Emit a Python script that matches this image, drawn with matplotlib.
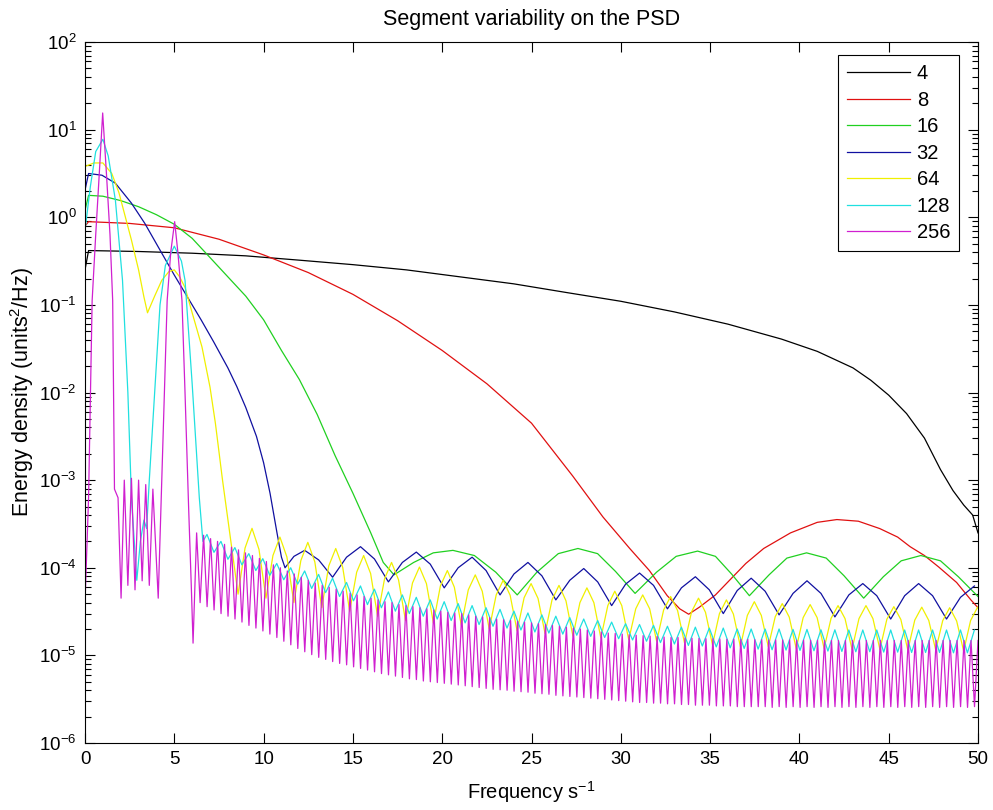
import numpy as np
import matplotlib
matplotlib.use("Agg")
import matplotlib.pyplot as plt
from matplotlib.ticker import FixedLocator, MultipleLocator, NullFormatter

plt.rcParams['font.family'] = ['Liberation Sans', 'DejaVu Sans']
plt.rcParams['mathtext.fontset'] = 'custom'
plt.rcParams['mathtext.rm'] = 'Liberation Sans'
plt.rcParams['mathtext.it'] = 'Liberation Sans:italic'

# segment lengths (legend)
segments = ['4', '8', '16', '32', '64', '128', '256']

# ---- segment 4 (black)
f4 = [0, 0.2, 3, 6, 9, 12, 15, 18, 21, 24, 27, 30, 33, 36, 39, 41, 43, 44, 45, 46, 47,
      47.9, 48.6, 49.2, 49.7, 50]
p4 = [0.251, 0.417, 0.407, 0.389, 0.363, 0.324, 0.288, 0.251, 0.209, 0.174, 0.138, 0.110,
      0.0832, 0.0603, 0.0407, 0.0295, 0.0191, 0.0138, 0.00933, 0.00575, 0.00302, 0.00132,
      7.6e-4, 5.2e-4, 4.0e-4, 2.5e-4]

# ---- segment 8 (red)
f8 = [0, 0.2, 2.5, 5, 7.5, 10, 12.5, 15, 17.5, 20, 22.5, 25, 27.3, 29, 30.5, 31.6, 32.6,
      33.3, 33.8, 34.4, 35.3, 36.2, 37.0, 38.0, 39.5, 41.0, 42.1, 43.3, 44.5, 45.5, 46.2,
      47.0, 47.8, 48.8, 49.6, 50]
p8 = [0.794, 0.891, 0.851, 0.759, 0.562, 0.372, 0.234, 0.132, 0.0661, 0.0302, 0.0126,
      0.00447, 0.00112, 3.8e-4, 1.66e-4, 9.3e-5, 4.8e-5, 3.4e-5, 2.95e-5, 3.55e-5, 4.9e-5,
      7.6e-5, 1.12e-4, 1.66e-4, 2.5e-4, 3.3e-4, 3.55e-4, 3.4e-4, 2.8e-4, 2.24e-4, 1.74e-4,
      1.38e-4, 1.02e-4, 6.8e-5, 4.3e-5, 3.5e-5]

# ---- segment 16 (green)
f16 = [0, 0.2, 1, 2, 3, 4, 5, 6, 7, 8, 9, 10, 11, 12, 13, 14, 15, 16, 16.7, 17.3,
       18.4, 19.5, 20.6, 21.8, 23.0, 24.2, 25.3, 26.5, 27.6, 28.7, 29.7, 30.8, 32.0, 33.1,
       34.3, 35.3, 36.2, 37.2, 38.3, 39.3, 40.4, 41.5, 42.5, 43.6, 44.7, 45.7, 46.8, 47.9,
       48.9, 50]
p16 = [1.20, 1.78, 1.74, 1.55, 1.32, 1.07, 0.832, 0.575, 0.347, 0.209, 0.126, 0.0676,
       0.0302, 0.0141, 0.00562, 0.00191, 7.1e-4, 2.5e-4, 1.15e-4, 8.3e-5,
       1.15e-4, 1.48e-4, 1.58e-4, 1.38e-4, 8.9e-5, 4.9e-5, 8.9e-5, 1.45e-4, 1.66e-4,
       1.45e-4, 9.1e-5, 5.1e-5, 8.9e-5, 1.35e-4, 1.55e-4, 1.35e-4, 8.5e-5, 4.8e-5, 8.3e-5,
       1.29e-4, 1.48e-4, 1.29e-4, 8.1e-5, 4.5e-5, 7.9e-5, 1.2e-4, 1.38e-4, 1.2e-4, 7.9e-5,
       4.7e-5]

# ---- segment 32 (blue): main lobe, then side lobes on a regular grid
f32_head = [0, 0.2, 0.95, 1.7, 2.6, 3.35, 4.3, 5.0, 5.8, 6.5, 7.2, 8.0, 8.5, 9.0, 9.6, 10.0,
            10.36, 10.75, 11.0, 11.2, 11.7]
p32_head = [2.04, 3.16, 3.02, 2.45, 1.45, 0.851, 0.389, 0.219, 0.117, 0.0676, 0.0380,
            0.0191, 0.0117, 0.00676, 0.00316, 0.00158, 7.1e-4, 2.5e-4, 1.32e-4, 1.0e-4,
            1.35e-4]
f32_tail_start, f32_tail_step = 12.3, 0.78125
p32_tail_e6 = [158, 123, 78, 132, 174, 126, 69, 115, 151, 110, 59, 100, 132, 93, 49, 85,
               115, 81, 43, 72, 98, 69, 37, 65, 87, 63, 34, 59, 79, 56, 30, 55, 76, 54, 29,
               51, 71, 51, 27.5, 49, 66, 48, 26, 48, 66, 48, 26, 46, 62]

# ---- segment 64 (yellow)
f64_head = [0, 0.5, 1.0, 1.5, 1.9, 2.6, 3.0, 3.3, 3.5, 3.9, 4.3, 4.7, 5.0, 5.3, 5.6, 6.0,
            6.55, 7.0, 7.3, 7.7, 8.1]
p64_head = [3.80, 4.17, 4.17, 3.16, 1.91, 0.550, 0.251, 0.123, 0.0813, 0.126, 0.191, 0.240,
            0.251, 0.209, 0.158, 0.0813, 0.0331, 0.0115, 0.00447, 0.001, 2.5e-4]
f64_tail_start, f64_tail_step = 8.57, 0.390625
p64_tail_e6 = [50, 168, 282, 162, 45, 138, 224, 133, 40, 121, 195, 117, 35, 105, 166, 101,
               32, 89, 138, 86, 28, 75, 115, 73, 25, 67, 102, 66, 23.4, 62, 93, 60,
               22, 56, 83, 54, 20, 49, 72, 48.5, 19, 45.5, 66, 44.6, 17.8, 43, 63, 42,
               16.6, 40, 59, 40, 15.8, 37, 54, 37, 15.1, 34, 49, 34, 14.5, 33, 47, 32.5,
               13.8, 31.4, 45, 31, 13.2, 30, 43, 29.6, 12.6, 28.6, 41, 28.6, 12.6, 27.7, 39,
               27.4, 12, 27, 38, 27, 12, 26.5, 37, 26.3, 11.7, 26.3, 37, 26.3, 11.7, 25.9,
               36, 25.7, 11.5, 25.3, 35.5, 25.1, 11.5, 24.9, 35, 24.7, 11.2, 25, 35.5]

# ---- segment 128 (cyan)
f128_head = [0, 0.3, 0.6, 1.0, 1.3, 1.7, 2.1, 2.4, 2.6, 2.9, 3.1, 3.3, 3.45, 3.6, 3.9, 4.2,
             4.5, 5.0, 5.4, 5.6, 6.0, 6.4, 6.6]
p128_head = [0.708, 2.24, 5.62, 7.76, 5.01, 1.58, 0.191, 0.01, 6.3e-4, 7.2e-5, 2.0e-4,
             3.5e-4, 2.8e-4, 1e-3, 0.01, 0.1, 0.282, 0.468, 0.316, 0.191, 0.0126, 6.3e-4,
             2.0e-4]
f128_tail_start, f128_tail_step = 6.83, 0.390625
p128_peaks_e6 = [240, 200, 170, 145, 127, 112, 100, 92, 84, 76,
                 68, 62, 57, 53, 49, 46, 43, 41, 39, 37,
                 35, 33.5, 32, 30.5, 29, 28, 27, 26, 25, 24,
                 23, 22.5, 22, 21.5, 21, 21, 20.5, 20.5, 20, 20,
                 20, 20, 19.8, 19.8, 19.6, 19.6, 19.5, 19.5, 19.5, 19.5,
                 19.5, 19.5, 19.5, 19.5, 19.5, 19.5]
p128_troughs_e6 = [150, 125, 108, 93, 82, 73, 65, 58, 52, 47,
                   42, 38, 35, 32, 30, 28, 26, 25, 23.5, 22.5,
                   21.5, 20.5, 19.5, 18.5, 18, 17.5, 17, 16.5, 16, 15.5,
                   15, 14.5, 14, 13.5, 13, 12.8, 12.5, 12.2, 12, 11.8,
                   11.6, 11.5, 11.4, 11.3, 11.2, 11.1, 11, 11, 10.9, 10.9,
                   10.8, 10.8, 10.8, 10.7, 10.7]

# ---- segment 256 (magenta)
f256_head = [0, 0.2, 0.4, 0.6, 0.8, 0.99, 1.2, 1.4, 1.55, 1.65, 1.85, 2.02, 2.2, 2.4, 2.6,
             2.8, 3.0, 3.2, 3.4, 3.6, 3.8, 4.1, 4.3, 4.45, 4.6, 4.8, 5.02, 5.2, 5.43, 5.6,
             5.8, 5.95, 6.05]
p256_head = [3.98e-5, 6.3e-4, 0.112, 0.631, 3.16, 15.5, 3.16, 0.631, 0.112, 7.9e-4, 6.3e-4,
             4.5e-5, 1e-3, 6.3e-5, 1.05e-3, 5.6e-5, 1e-3, 7.1e-5, 8.9e-4, 6.3e-5, 7.9e-4,
             4.5e-5, 1e-3, 0.01, 0.112, 0.398, 0.891, 0.398, 0.112, 0.01, 5.0e-4, 6.3e-5,
             1.38e-5]
f256_tail_start, f256_tail_step = 6.25, 0.1953125
p256_peaks_e6 = [250, 235, 215, 200, 185, 172, 160, 148, 138, 128,
                 118, 108, 100, 92, 85, 78, 72, 67, 63, 60,
                 57, 54, 51, 49, 47, 45, 43, 41, 40, 38,
                 37, 36, 35, 34, 33, 32, 31, 30.5, 30, 29,
                 28, 27.5, 27, 26, 25.5, 25, 24.5, 24, 23.5, 23,
                 22.5, 22, 21.5, 21, 20.5, 20, 19.5, 19, 18.5, 18,
                 17.8, 17.5, 17.2, 17, 16.8, 16.6, 16.4, 16.2, 16, 16,
                 15.8, 15.7, 15.6, 15.5, 15.5, 15.4, 15.3, 15.3, 15.2, 15.2,
                 15.1, 15.1, 15, 15, 15, 15, 14.9, 14.9, 14.9, 14.9,
                 14.8, 14.8, 14.8, 14.8, 14.8, 14.8, 14.8, 14.8, 14.8, 14.8,
                 14.8, 14.8, 14.8, 14.8, 14.8, 14.8, 14.8, 14.8, 14.8, 14.8,
                 14.8, 14.8, 14.8]
p256_troughs_e6 = [40, 36, 33, 30, 28, 26, 24, 22, 20.5, 19,
                   17.5, 16, 14.5, 13.2, 12, 11, 10.2, 9.5, 9, 8.5,
                   8.1, 7.8, 7.4, 7.1, 6.8, 6.5, 6.2, 6, 5.8, 5.6,
                   5.4, 5.3, 5.1, 5, 4.9, 4.8, 4.7, 4.6, 4.5, 4.4,
                   4.3, 4.2, 4.1, 4.05, 4, 3.9, 3.85, 3.8, 3.7, 3.65,
                   3.6, 3.5, 3.45, 3.4, 3.35, 3.3, 3.25, 3.2, 3.15, 3.1,
                   3.05, 3, 2.95, 2.9, 2.9, 2.85, 2.85, 2.8, 2.8, 2.75,
                   2.75, 2.7, 2.7, 2.7, 2.65, 2.65, 2.65, 2.6, 2.6, 2.6,
                   2.6, 2.6, 2.55, 2.6, 2.55, 2.6, 2.55, 2.6, 2.55, 2.6,
                   2.55, 2.6, 2.55, 2.6, 2.55, 2.6, 2.55, 2.6, 2.55, 2.6,
                   2.55, 2.6, 2.55, 2.6, 2.55, 2.6, 2.55, 2.6, 2.55, 2.6,
                   2.55, 2.6]

colors = ['#000000', '#e01010', '#20d020', '#1010a0', '#f0f000', '#20e0e0', '#d020d0']


def grid_tail(start, step, vals_e6):
    x = start + step * np.arange(len(vals_e6))
    return x, np.array(vals_e6) * 1e-6


def interleave(peaks, troughs):
    out = np.empty(len(peaks) + len(troughs))
    out[0::2] = peaks
    out[1::2] = troughs
    return out


def join(fh, ph, ft, pt):
    return np.concatenate([fh, ft]), np.concatenate([ph, pt])


x32, y32 = join(f32_head, p32_head, *grid_tail(f32_tail_start, f32_tail_step, p32_tail_e6))
x64, y64 = join(f64_head, p64_head, *grid_tail(f64_tail_start, f64_tail_step, p64_tail_e6))
x128, y128 = join(f128_head, p128_head,
                  *grid_tail(f128_tail_start, f128_tail_step,
                             interleave(p128_peaks_e6, p128_troughs_e6)))
x256, y256 = join(f256_head, p256_head,
                  *grid_tail(f256_tail_start, f256_tail_step,
                             interleave(p256_peaks_e6, p256_troughs_e6)))

series = [(f4, p4), (f8, p8), (f16, p16), (x32, y32), (x64, y64), (x128, y128), (x256, y256)]

fig = plt.figure(figsize=(9.93, 8.10), dpi=100)
ax = fig.add_axes([0.0856, 0.0827, 0.8993, 0.8654])

for (x, y), c, lab in zip(series, colors, segments):
    ax.plot(x, y, color=c, lw=0.9, label=lab)

ax.set_yscale('log')
ax.set_xlim(0, 50)
ax.set_ylim(1e-6, 1e2)
ax.xaxis.set_major_locator(MultipleLocator(5))
decades = 10.0 ** np.arange(-6, 3)
ax.yaxis.set_major_locator(FixedLocator(decades))
ax.yaxis.set_minor_locator(FixedLocator([d * m for d in decades[:-1] for m in range(2, 10)]))
ax.yaxis.set_minor_formatter(NullFormatter())
ax.tick_params(which='both', direction='in', top=True, right=True, labelsize=13.5,
               width=0.8, pad=6)
ax.tick_params(which='major', length=7)
ax.tick_params(which='minor', length=4)
for s in ax.spines.values():
    s.set_linewidth(0.8)

ax.set_title('Segment variability on the PSD', fontsize=15.5, pad=12)
ax.set_xlabel('Frequency s$^{-1}$', fontsize=14.5, labelpad=8)
ax.set_ylabel('Energy density (units$^2$/Hz)', fontsize=15.5, labelpad=2)

leg = ax.legend(loc='upper right', bbox_to_anchor=(0.979, 0.981), borderaxespad=0,
                fontsize=14.5, fancybox=False, framealpha=1, edgecolor='black',
                handlelength=3.1, handletextpad=0.35, labelspacing=0.37, borderpad=0.45)
leg.get_frame().set_linewidth(0.8)

fig.savefig('out.png', dpi=100)
